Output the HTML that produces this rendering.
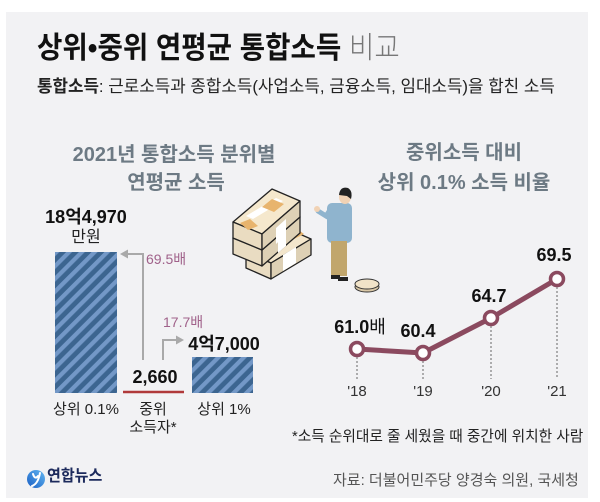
<!DOCTYPE html>
<html><head><meta charset="utf-8">
<style>
html,body{margin:0;padding:0;background:#fff;}
body{width:600px;height:502px;position:relative;overflow:hidden;font-family:"Liberation Sans","Noto Sans CJK KR",sans-serif;}
.p{position:absolute;left:6px;top:12px;width:582px;height:486px;background:#f2f2f4;}
.t{position:absolute;white-space:nowrap;}
.c{position:absolute;width:300px;text-align:center;white-space:nowrap;}
.c span,.t span.s{display:inline-block;}
</style></head><body>
<div class="p"></div>

<svg width="600" height="502" style="position:absolute;left:0;top:0">
<defs>
<pattern id="st" width="9" height="9" patternUnits="userSpaceOnUse" patternTransform="rotate(45)">
<rect width="9" height="9" fill="#3c6590"/>
<rect width="4.2" height="9" fill="#7398c7"/>
</pattern>
<linearGradient id="lg" x1="0" y1="1" x2="1" y2="0">
<stop offset="0" stop-color="#1a5fc4"/><stop offset="1" stop-color="#63b7f2"/>
</linearGradient>
</defs>
<!-- bars -->
<rect x="55" y="252" width="62" height="141" fill="url(#st)"/>
<rect x="192" y="357" width="61" height="36" fill="url(#st)"/>
<line x1="123" y1="392" x2="184" y2="392" stroke="#b0393a" stroke-width="2.5"/>
<!-- arrows -->
<polyline points="143,360 143,254 127,254" fill="none" stroke="#a9a9a9" stroke-width="2"/>
<polygon points="120,254 128,249.5 128,258.5" fill="#a9a9a9"/>
<polyline points="163,360 163,340 177,340" fill="none" stroke="#a9a9a9" stroke-width="2"/>
<polygon points="184,340 176,335.5 176,344.5" fill="#a9a9a9"/>

<!-- money stacks -->
<g stroke="#222" stroke-width="1.3" stroke-linejoin="round">
 <polygon points="246,252 286,228 311,239 271,263" fill="#f3e6cc"/>
 <polygon points="246,252 271,263 271,279 246,268" fill="#e9dcc2"/>
 <polygon points="271,263 311,239 311,255 271,279" fill="#ddd0b5"/>
 <polygon points="283,255 296,247 296,263 283,271" fill="#fff" stroke="none"/>
 <polygon points="290,236 300,231 304,234 294,239" fill="#e8b46d" stroke="none"/>
 <polygon points="233,238 272,205 300,217 262,250" fill="#f3e6cc"/>
 <polygon points="233,238 262,250 262,266 233,254" fill="#e9dcc2"/>
 <polygon points="262,250 300,217 300,233 262,266" fill="#ddd0b5"/>
 <polygon points="278,237 286,230 286,246 278,253" fill="#fff" stroke="none"/>
 <polygon points="233,222 272,189 300,201 262,234" fill="#f5e8cd"/>
 <polygon points="233,222 262,234 262,250 233,238" fill="#eadcc1"/>
 <polygon points="262,234 300,201 300,217 262,250" fill="#ded1b6"/>
 <polygon points="246,216 276,198 283,201 253,219" fill="#fff" stroke="none"/>
 <polygon points="262,207 272,199 284,204 274,212" fill="#e8b46d" stroke="none"/>
 <polygon points="240,223 250,219 258,226 248,230" fill="#e8b46d" stroke="none"/>
 <polygon points="276,228 286,219 286,235 276,244" fill="#fff" stroke="none"/>
</g>
<!-- person -->
<g>
 <path d="M318,211 L326,216 L330,210" fill="none" stroke="#8fb4ce" stroke-width="5" stroke-linecap="round"/>
 <circle cx="317" cy="209" r="3" fill="#f1d2b4"/>
 <rect x="327" y="203" width="25" height="40" rx="5" fill="#8fb4ce"/>
 <rect x="331" y="241" width="16" height="35" fill="#c1a66c"/>
 <ellipse cx="345" cy="197" rx="6" ry="7" fill="#f1d2b4"/>
 <path d="M339,195 Q340,186 348,188 Q353,191 351,199 L347,196 Z" fill="#222"/>
 <rect x="331" y="275" width="9" height="4" fill="#222"/>
 <rect x="338" y="277" width="10" height="4" fill="#222"/>
</g>
<!-- coin -->
<ellipse cx="367" cy="287" rx="12" ry="5" fill="#d9c7a6" stroke="#333" stroke-width="1"/>
<ellipse cx="367" cy="284" rx="12" ry="5" fill="#f1e3c8" stroke="#333" stroke-width="1"/>

<!-- line chart -->
<g stroke="#666" stroke-width="1" stroke-dasharray="2,2">
 <line x1="357" y1="357" x2="357" y2="379"/>
 <line x1="423" y1="361" x2="423" y2="379"/>
 <line x1="491" y1="326" x2="491" y2="379"/>
 <line x1="557" y1="287" x2="557" y2="379"/>
</g>
<polyline points="357,349 423,353 491,318 557,279" fill="none" stroke="#8b4a5f" stroke-width="5" stroke-linejoin="round"/>
<g fill="#fff" stroke="#8b4a5f" stroke-width="3.5">
 <circle cx="357" cy="349" r="6.5"/>
 <circle cx="423" cy="353" r="6.5"/>
 <circle cx="491" cy="318" r="6.5"/>
 <circle cx="557" cy="279" r="6.5"/>
</g>

<!-- logo icon -->
<circle cx="36" cy="479" r="9" fill="url(#lg)"/>
<path d="M33,474 Q35,480 38,476 M40,473 Q38,484 32,486" fill="none" stroke="#fff" stroke-width="2" stroke-linecap="round"/>
</svg>

<!-- title -->
<div class="t" style="left:37px;top:31px;font-size:30px;line-height:36px;color:#111;transform:scaleX(0.92);transform-origin:0 50%;"><b>상위•중위 연평균 통합소득</b> <span style="font-weight:300;color:#777;">비교</span></div>
<div class="t" style="left:37px;top:76px;font-size:17px;line-height:22px;color:#222;transform:scaleX(0.99);transform-origin:0 50%;"><b>통합소득</b>: 근로소득과 종합소득(사업소득, 금융소득, 임대소득)을 합친 소득</div>

<!-- left chart title -->
<div class="c" style="left:24px;top:143px;font-size:20px;line-height:24px;font-weight:bold;color:#6d7a84;">2021년 통합소득 분위별</div>
<div class="c" style="left:26px;top:171px;font-size:20px;line-height:24px;font-weight:bold;color:#6d7a84;">연평균 소득</div>
<!-- right chart title -->
<div class="c" style="left:314px;top:141px;font-size:20px;line-height:24px;font-weight:bold;color:#6d7a84;">중위소득 대비</div>
<div class="c" style="left:314px;top:171px;font-size:20px;line-height:24px;font-weight:bold;color:#6d7a84;">상위 0.1% 소득 비율</div>

<!-- bar labels -->
<div class="c" style="left:-64px;top:206px;font-size:18px;line-height:22px;font-weight:bold;color:#111;">18억4,970</div>
<div class="c" style="left:-64px;top:228px;font-size:16px;line-height:20px;color:#222;">만원</div>
<div class="t" style="left:146px;top:250px;font-size:14px;line-height:18px;color:#a0628a;">69.5배</div>
<div class="t" style="left:163px;top:313px;font-size:14px;line-height:18px;color:#a0628a;">17.7배</div>
<div class="c" style="left:74px;top:333px;font-size:18px;line-height:22px;font-weight:bold;color:#111;">4억7,000</div>
<div class="c" style="left:5px;top:366px;font-size:18px;line-height:22px;font-weight:bold;color:#111;">2,660</div>
<div class="c" style="left:-64px;top:400px;font-size:15px;line-height:20px;color:#222;">상위 0.1%</div>
<div class="c" style="left:3px;top:400px;font-size:15px;line-height:20px;color:#222;">중위</div>
<div class="c" style="left:3px;top:418px;font-size:15px;line-height:20px;color:#222;">소득자*</div>
<div class="c" style="left:74px;top:400px;font-size:15px;line-height:20px;color:#222;">상위 1%</div>

<!-- line values -->
<div class="c" style="left:210px;top:316px;font-size:18px;line-height:22px;color:#111;"><b>61.0</b>배</div>
<div class="c" style="left:268px;top:320px;font-size:18px;line-height:22px;font-weight:bold;color:#111;">60.4</div>
<div class="c" style="left:339px;top:285px;font-size:18px;line-height:22px;font-weight:bold;color:#111;">64.7</div>
<div class="c" style="left:404px;top:244px;font-size:18px;line-height:22px;font-weight:bold;color:#111;">69.5</div>
<div class="c" style="left:207px;top:382px;font-size:15px;line-height:20px;color:#333;">'18</div>
<div class="c" style="left:273px;top:382px;font-size:15px;line-height:20px;color:#333;">'19</div>
<div class="c" style="left:341px;top:382px;font-size:15px;line-height:20px;color:#333;">'20</div>
<div class="c" style="left:407px;top:382px;font-size:15px;line-height:20px;color:#333;">'21</div>

<!-- footnote & source -->
<div class="t" style="left:292px;top:427px;font-size:15px;line-height:20px;color:#222;transform:scaleX(0.98);transform-origin:0 50%;">*소득 순위대로 줄 세웠을 때 중간에 위치한 사람</div>
<div class="t" style="left:333px;top:471px;font-size:15px;line-height:20px;color:#555;transform:scaleX(1.0);transform-origin:0 50%;">자료: 더불어민주당 양경숙 의원, 국세청</div>
<div class="t" style="left:47px;top:467px;font-size:16px;line-height:20px;font-weight:bold;color:#1c2a5c;transform:scaleX(0.94);transform-origin:0 50%;">연합뉴스</div>
</body></html>
